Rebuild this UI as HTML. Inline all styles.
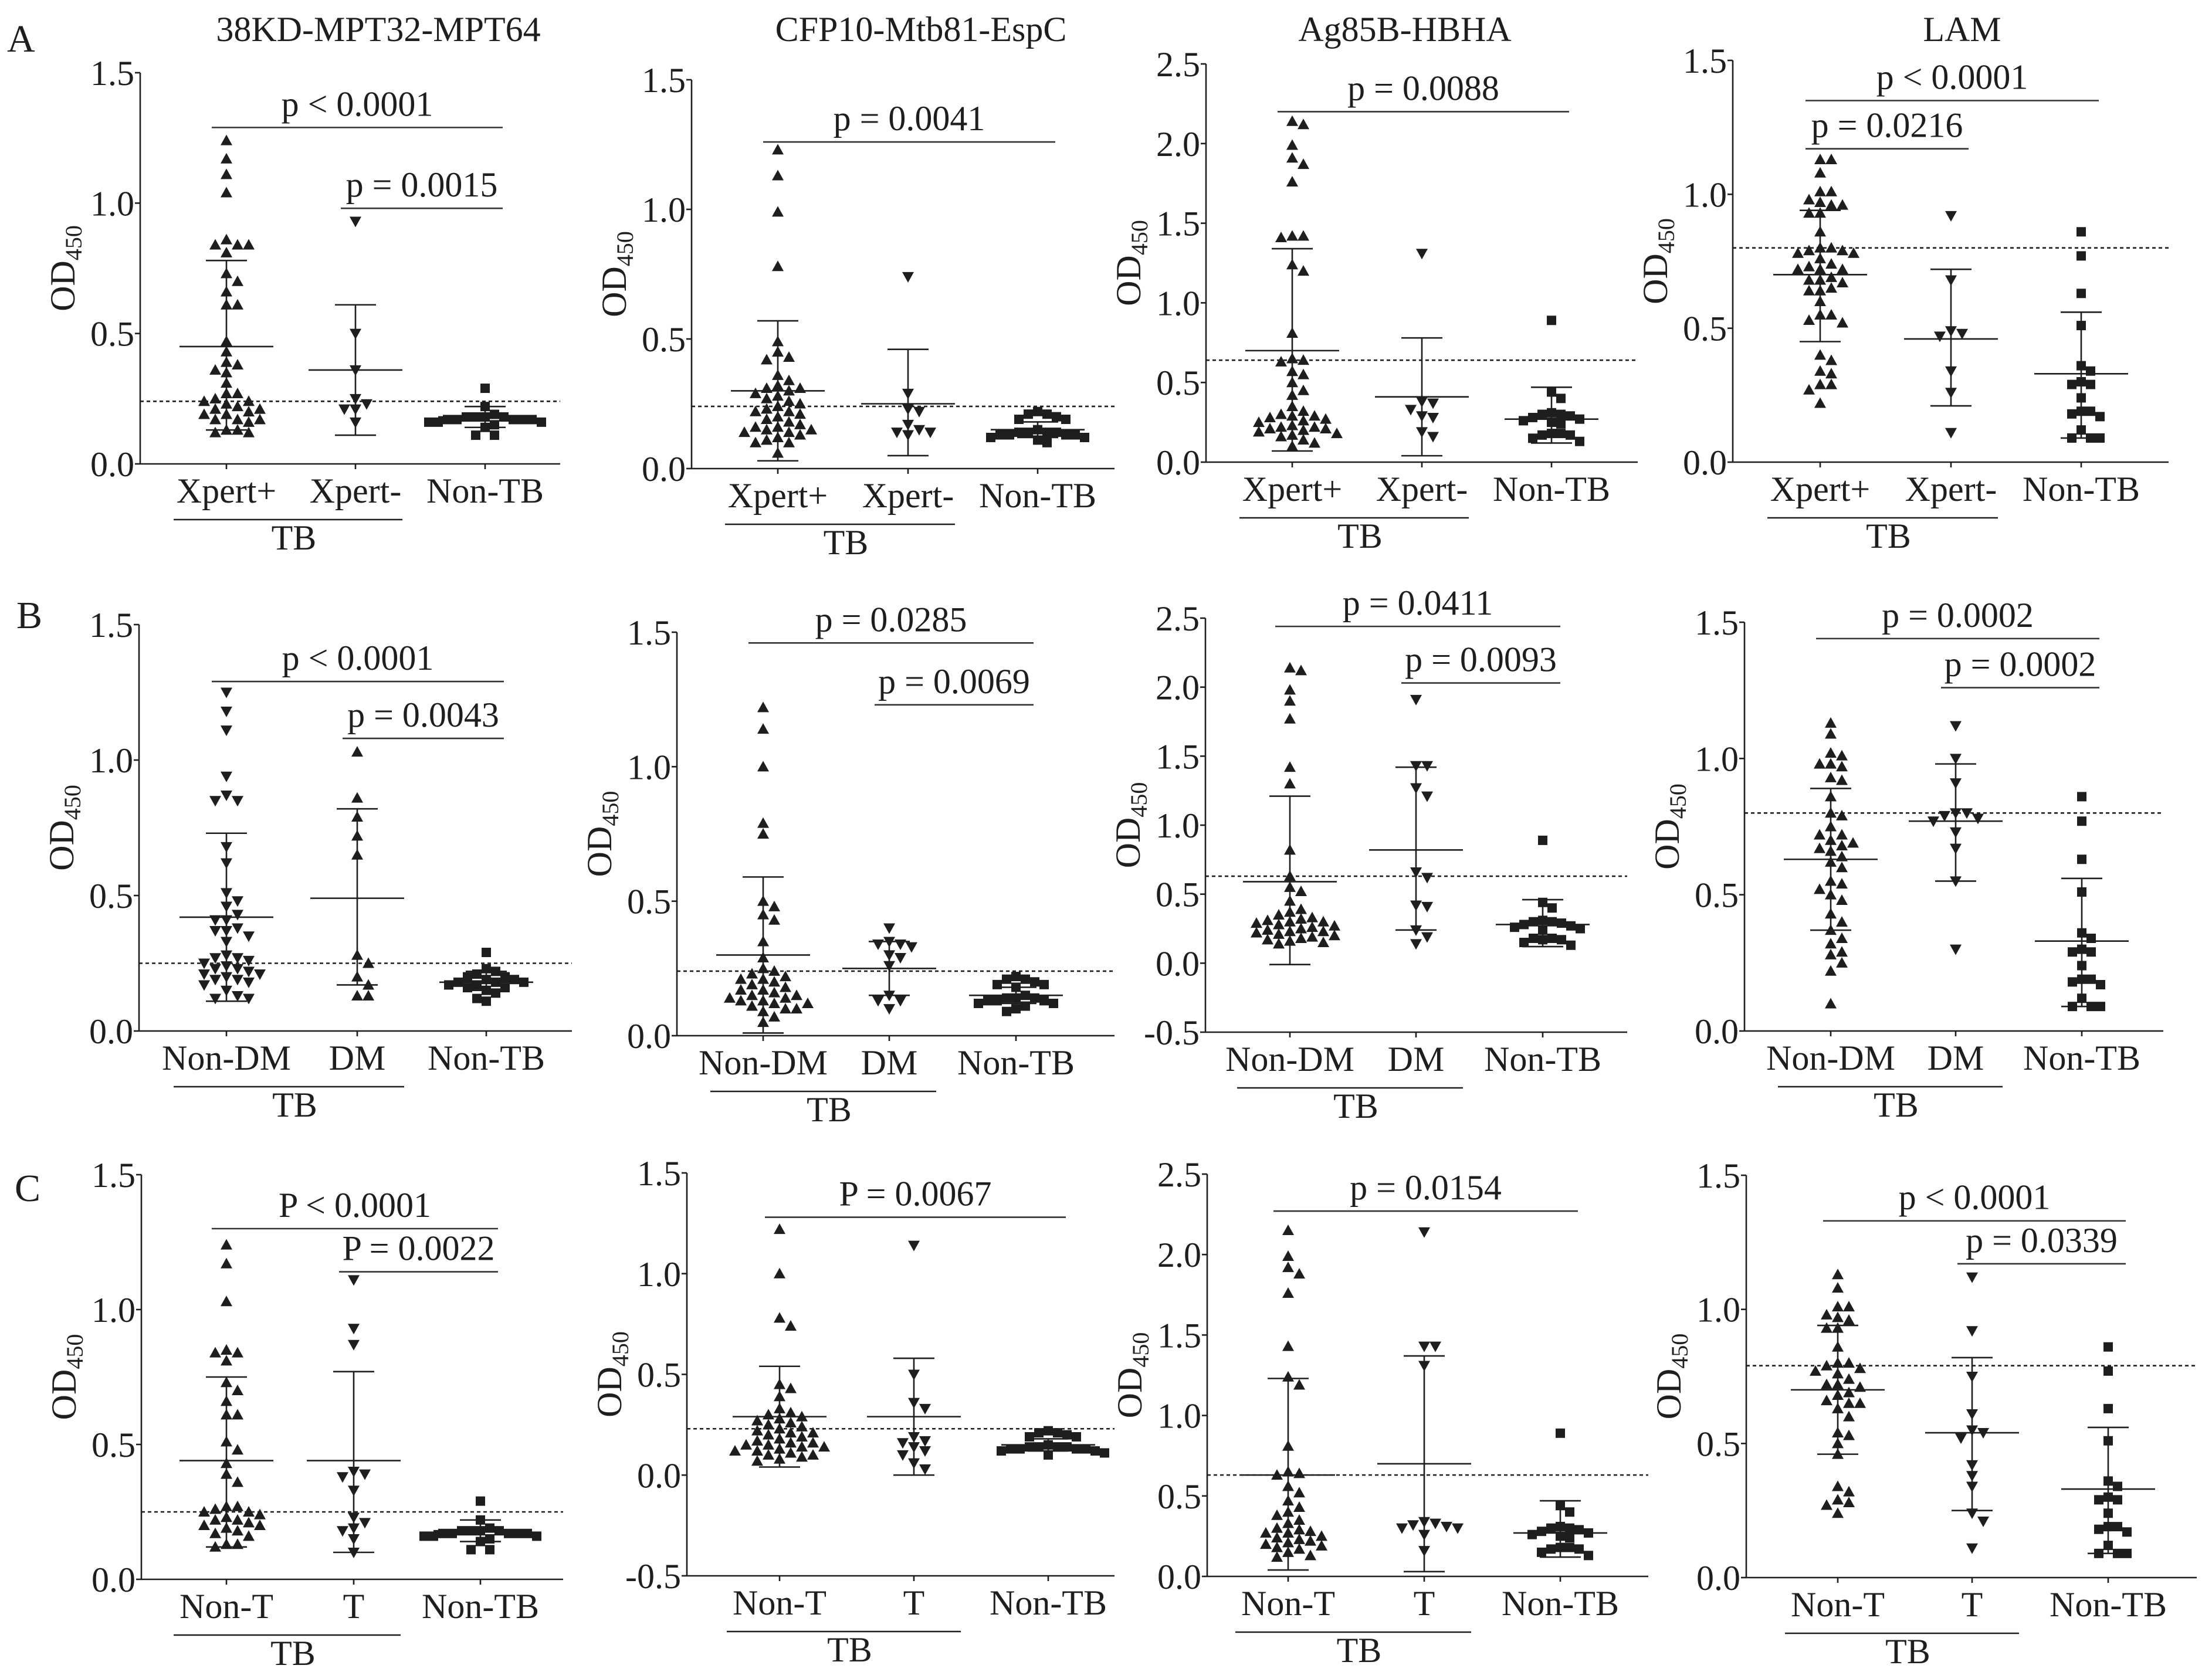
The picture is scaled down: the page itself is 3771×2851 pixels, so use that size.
<!DOCTYPE html>
<html><head><meta charset="utf-8"><title>OD450 scatter panels</title>
<style>html,body{margin:0;padding:0;background:#fff}svg{display:block}</style></head>
<body>
<svg id="fig" xmlns="http://www.w3.org/2000/svg" width="3771" height="2851" viewBox="0 0 3771 2851" font-family="'Liberation Serif', 'DejaVu Serif', serif"></svg>
<script>
// ===== DATA =====
const A1_xpertPos=[1.24,1.17,1.11,1.04,0.86,0.84,0.84,0.84,0.81,0.73,0.70,0.66,0.61,0.61,0.47,0.43,0.39,0.38,0.36,0.35,0.31,0.27,0.27,0.25,0.24,0.24,0.23,0.22,0.21,0.21,0.20,0.19,0.19,0.17,0.17,0.17,0.16,0.13,0.13,0.12,0.12];
const A1_xpertNeg=[0.93,0.50,0.36,0.25,0.23,0.21,0.21,0.16];
const A1_nonTB=[0.29,0.22,0.19,0.18,0.18,0.18,0.18,0.17,0.17,0.17,0.17,0.17,0.16,0.16,0.16,0.15,0.14,0.11,0.11];
const A1_mean=[0.45,0.36,0.18], A1_hi=[0.78,0.61,0.22], A1_lo=[0.13,0.11,0.14], A1_cut=0.24;
const A1_bars=[[0,2,1.29,'p < 0.0001'],[1,2,0.98,'p = 0.0015']];

const A2_xpertPos=[1.23,1.13,0.99,0.78,0.49,0.45,0.43,0.42,0.36,0.34,0.32,0.31,0.31,0.30,0.29,0.28,0.27,0.26,0.25,0.24,0.23,0.22,0.22,0.21,0.20,0.19,0.18,0.17,0.16,0.16,0.15,0.15,0.14,0.14,0.13,0.12,0.11,0.10,0.10,0.06];
const A2_xpertNeg=[0.74,0.29,0.23,0.22,0.17,0.15,0.14,0.14,0.13];
const A2_nonTB=[0.22,0.21,0.21,0.20,0.19,0.19,0.15,0.14,0.14,0.14,0.14,0.13,0.13,0.13,0.13,0.12,0.12,0.11,0.10];
const A2_mean=[0.30,0.25,0.15], A2_hi=[0.57,0.46,0.18], A2_lo=[0.03,0.05,0.12], A2_cut=0.24;
const A2_bars=[[0,2,1.26,'p = 0.0041']];

const A3_xpertPos=[2.14,2.12,1.99,1.91,1.87,1.76,1.42,1.41,1.42,1.24,1.20,0.81,0.65,0.64,0.63,0.57,0.55,0.50,0.45,0.42,0.35,0.32,0.30,0.29,0.29,0.28,0.27,0.26,0.25,0.23,0.22,0.22,0.21,0.21,0.20,0.19,0.18,0.17,0.16,0.14,0.12,0.10];
const A3_xpertNeg=[1.31,0.38,0.37,0.33,0.29,0.28,0.19,0.16];
const A3_nonTB=[0.89,0.44,0.40,0.31,0.30,0.30,0.29,0.28,0.27,0.26,0.25,0.24,0.18,0.18,0.17,0.17,0.15,0.13];
const A3_mean=[0.70,0.41,0.27], A3_hi=[1.34,0.78,0.47], A3_lo=[0.07,0.04,0.12], A3_cut=0.64;
const A3_bars=[[0,2,2.20,'p = 0.0088']];

const A4_xpertPos=[1.13,1.13,1.08,1.01,1.01,0.98,0.97,0.96,0.96,0.93,0.93,0.86,0.80,0.80,0.79,0.79,0.78,0.78,0.76,0.74,0.73,0.72,0.72,0.72,0.69,0.68,0.68,0.67,0.65,0.64,0.64,0.60,0.55,0.55,0.53,0.52,0.40,0.38,0.34,0.33,0.29,0.29,0.27,0.22];
const A4_xpertNeg=[0.92,0.68,0.49,0.48,0.47,0.34,0.26,0.11];
const A4_nonTB=[0.86,0.77,0.63,0.51,0.36,0.34,0.30,0.29,0.29,0.24,0.19,0.19,0.18,0.17,0.12,0.09,0.09,0.09];
const A4_mean=[0.70,0.46,0.33], A4_hi=[0.94,0.72,0.56], A4_lo=[0.45,0.21,0.09], A4_cut=0.80;
const A4_bars=[[0,2,1.35,'p < 0.0001'],[0,1,1.17,'p = 0.0216']];

const B1_nonDM=[1.25,1.18,1.11,0.94,0.87,0.85,0.85,0.68,0.62,0.51,0.48,0.46,0.43,0.41,0.41,0.38,0.37,0.37,0.35,0.33,0.28,0.27,0.27,0.26,0.25,0.24,0.23,0.23,0.22,0.21,0.21,0.20,0.19,0.19,0.18,0.17,0.15,0.13,0.12,0.12];
const B1_DM=[1.03,0.86,0.79,0.72,0.65,0.28,0.25,0.20,0.17,0.13,0.13];
const B1_nonTB=[0.29,0.23,0.22,0.21,0.20,0.20,0.19,0.19,0.18,0.18,0.18,0.17,0.17,0.16,0.16,0.15,0.14,0.12,0.11];
const B1_mean=[0.42,0.49,0.18], B1_hi=[0.73,0.82,0.22], B1_lo=[0.11,0.17,0.15], B1_cut=0.25;
const B1_bars=[[0,2,1.29,'p < 0.0001'],[1,2,1.08,'p = 0.0043']];

const B2_nonDM=[1.22,1.14,1.00,0.79,0.75,0.50,0.48,0.45,0.43,0.35,0.29,0.25,0.24,0.23,0.22,0.21,0.21,0.20,0.19,0.18,0.17,0.17,0.16,0.15,0.15,0.14,0.14,0.13,0.13,0.12,0.12,0.11,0.10,0.10,0.09,0.07,0.05];
const B2_DM=[0.40,0.35,0.34,0.34,0.33,0.30,0.29,0.26,0.15,0.13,0.13,0.10];
const B2_nonTB=[0.22,0.21,0.21,0.20,0.19,0.19,0.18,0.15,0.14,0.14,0.14,0.13,0.13,0.13,0.12,0.12,0.11,0.10,0.09];
const B2_mean=[0.30,0.25,0.15], B2_hi=[0.59,0.35,0.18], B2_lo=[0.01,0.15,0.12], B2_cut=0.24;
const B2_bars=[[0,2,1.46,'p = 0.0285'],[1,2,1.23,'p = 0.0069']];

const B3_nonDM=[2.14,2.12,1.98,1.90,1.77,1.42,1.30,0.82,0.63,0.55,0.52,0.45,0.39,0.37,0.35,0.33,0.32,0.31,0.30,0.30,0.29,0.28,0.27,0.26,0.25,0.24,0.23,0.23,0.22,0.21,0.20,0.19,0.18,0.17,0.16,0.15,0.14];
const B3_DM=[1.91,1.43,1.43,1.27,1.21,0.66,0.62,0.42,0.41,0.24,0.19,0.14];
const B3_nonTB=[0.89,0.44,0.40,0.31,0.30,0.30,0.29,0.28,0.27,0.26,0.25,0.24,0.18,0.18,0.17,0.17,0.15,0.13];
const B3_mean=[0.59,0.82,0.28], B3_hi=[1.21,1.42,0.46], B3_lo=[-0.01,0.24,0.12], B3_cut=0.63;
const B3_bars=[[0,2,2.44,'p = 0.0411'],[1,2,2.03,'p = 0.0093']];

const B4_nonDM=[1.13,1.09,1.02,1.01,0.98,0.98,0.97,0.93,0.92,0.86,0.79,0.80,0.75,0.72,0.72,0.70,0.69,0.68,0.67,0.66,0.64,0.62,0.60,0.55,0.54,0.52,0.50,0.48,0.43,0.40,0.37,0.34,0.32,0.29,0.28,0.25,0.22,0.10];
const B4_DM=[1.12,1.00,0.91,0.80,0.80,0.79,0.78,0.77,0.73,0.67,0.55,0.30];
const B4_nonTB=[0.86,0.77,0.63,0.51,0.36,0.34,0.30,0.29,0.29,0.24,0.19,0.19,0.18,0.17,0.12,0.09,0.09,0.09];
const B4_mean=[0.63,0.77,0.33], B4_hi=[0.89,0.98,0.56], B4_lo=[0.37,0.55,0.09], B4_cut=0.80;
const B4_bars=[[0,2,1.44,'p = 0.0002'],[1,2,1.26,'p = 0.0002']];

const C1_nonT=[1.24,1.17,1.03,0.85,0.84,0.84,0.81,0.73,0.70,0.66,0.61,0.61,0.51,0.48,0.43,0.39,0.36,0.27,0.27,0.26,0.25,0.25,0.24,0.23,0.22,0.22,0.21,0.20,0.20,0.19,0.18,0.17,0.16,0.13,0.13,0.12];
const C1_T=[1.11,0.93,0.87,0.40,0.39,0.38,0.33,0.23,0.21,0.19,0.18,0.15,0.10];
const C1_nonTB=[0.29,0.22,0.19,0.18,0.18,0.18,0.18,0.17,0.17,0.17,0.17,0.17,0.16,0.16,0.16,0.15,0.14,0.11,0.11];
const C1_mean=[0.44,0.44,0.18], C1_hi=[0.75,0.77,0.22], C1_lo=[0.12,0.10,0.14], C1_cut=0.25;
const C1_bars=[[0,2,1.30,'P < 0.0001'],[1,2,1.14,'P = 0.0022']];

const C2_nonT=[1.22,1.00,0.78,0.74,0.45,0.43,0.39,0.33,0.31,0.30,0.29,0.28,0.27,0.26,0.25,0.24,0.23,0.22,0.21,0.21,0.20,0.19,0.18,0.17,0.16,0.16,0.15,0.15,0.14,0.14,0.13,0.12,0.12,0.11,0.10,0.10,0.09,0.08,0.07];
const C2_T=[1.14,0.50,0.36,0.33,0.19,0.17,0.16,0.14,0.12,0.10,0.06,0.03];
const C2_nonTB=[0.22,0.21,0.21,0.20,0.19,0.19,0.15,0.14,0.14,0.14,0.14,0.13,0.13,0.13,0.13,0.12,0.12,0.11,0.10];
const C2_mean=[0.29,0.29,0.15], C2_hi=[0.54,0.58,0.18], C2_lo=[0.04,0.00,0.12], C2_cut=0.23;
const C2_bars=[[0,2,1.28,'P = 0.0067']];

const C3_nonT=[2.15,1.99,1.92,1.88,1.76,1.43,1.24,1.19,0.81,0.65,0.64,0.63,0.56,0.52,0.47,0.43,0.40,0.38,0.35,0.33,0.30,0.29,0.28,0.27,0.27,0.25,0.24,0.23,0.22,0.21,0.20,0.19,0.18,0.17,0.15,0.13,0.12];
const C3_T=[2.14,1.43,1.43,1.31,0.34,0.33,0.32,0.31,0.30,0.30,0.26,0.16];
const C3_nonTB=[0.89,0.44,0.40,0.31,0.30,0.30,0.29,0.28,0.27,0.26,0.25,0.24,0.18,0.18,0.17,0.17,0.15,0.13];
const C3_mean=[0.63,0.70,0.27], C3_hi=[1.23,1.37,0.47], C3_lo=[0.04,0.03,0.12], C3_cut=0.63;
const C3_bars=[[0,2,2.27,'p = 0.0154']];

const C4_nonT=[1.13,1.08,1.01,1.01,0.98,0.97,0.96,0.93,0.93,0.86,0.80,0.80,0.79,0.78,0.77,0.76,0.74,0.72,0.72,0.71,0.69,0.68,0.66,0.65,0.65,0.63,0.60,0.54,0.53,0.50,0.46,0.34,0.32,0.29,0.28,0.27,0.24];
const C4_T=[1.12,0.92,0.75,0.61,0.55,0.54,0.52,0.42,0.38,0.34,0.24,0.21,0.11];
const C4_nonTB=[0.86,0.77,0.63,0.51,0.36,0.34,0.30,0.29,0.29,0.24,0.19,0.19,0.18,0.17,0.12,0.09,0.09,0.09];
const C4_mean=[0.70,0.54,0.33], C4_hi=[0.94,0.82,0.56], C4_lo=[0.46,0.25,0.09], C4_cut=0.79;
const C4_bars=[[0,2,1.33,'p < 0.0001'],[1,2,1.17,'p = 0.0339']];

const catsA=['Xpert+','Xpert-','Non-TB'], catsB=['Non-DM','DM','Non-TB'], catsC=['Non-T','T','Non-TB'];
const titles=['38KD-MPT32-MPT64','CFP10-Mtb81-EspC','Ag85B-HBHA','LAM'];

// ===== LAYOUT =====
const panels=[
 {id:'a1',ax:239,right:955,y0:791,ytop:124,vmin:0,vmax:1.5,gx:[386,606,827],cats:catsA,shapes:['up','down','sq'],data:[A1_xpertPos,A1_xpertNeg,A1_nonTB],mean:A1_mean,hi:A1_hi,lo:A1_lo,cut:A1_cut,bars:A1_bars,title:titles[0],tx:645},
 {id:'a2',ax:1179,right:1900,y0:799,ytop:136,vmin:0,vmax:1.5,gx:[1326,1548,1769],cats:catsA,shapes:['up','down','sq'],data:[A2_xpertPos,A2_xpertNeg,A2_nonTB],mean:A2_mean,hi:A2_hi,lo:A2_lo,cut:A2_cut,bars:A2_bars,title:titles[1],tx:1570},
 {id:'a3',ax:2056,right:2792,y0:788,ytop:109,vmin:0,vmax:2.5,gx:[2203,2424,2645],cats:catsA,shapes:['up','down','sq'],data:[A3_xpertPos,A3_xpertNeg,A3_nonTB],mean:A3_mean,hi:A3_hi,lo:A3_lo,cut:A3_cut,bars:A3_bars,title:titles[2],tx:2395},
 {id:'a4',ax:2954,right:3697,y0:788,ytop:103,vmin:0,vmax:1.5,gx:[3103,3326,3548],cats:catsA,shapes:['up','down','sq'],data:[A4_xpertPos,A4_xpertNeg,A4_nonTB],mean:A4_mean,hi:A4_hi,lo:A4_lo,cut:A4_cut,bars:A4_bars,title:titles[3],tx:3345},
 {id:'b1',ax:237,right:975,y0:1758,ytop:1065,vmin:0,vmax:1.5,gx:[386,609,829],cats:catsB,shapes:['down','up','sq'],data:[B1_nonDM,B1_DM,B1_nonTB],mean:B1_mean,hi:B1_hi,lo:B1_lo,cut:B1_cut,bars:B1_bars},
 {id:'b2',ax:1154,right:1900,y0:1766,ytop:1078,vmin:0,vmax:1.5,gx:[1301,1516,1732],cats:catsB,shapes:['up','down','sq'],data:[B2_nonDM,B2_DM,B2_nonTB],mean:B2_mean,hi:B2_hi,lo:B2_lo,cut:B2_cut,bars:B2_bars},
 {id:'b3',ax:2055,right:2774,y0:1760,ytop:1054,vmin:-0.5,vmax:2.5,gx:[2199,2414,2630],cats:catsB,shapes:['up','down','sq'],data:[B3_nonDM,B3_DM,B3_nonTB],mean:B3_mean,hi:B3_hi,lo:B3_lo,cut:B3_cut,bars:B3_bars},
 {id:'b4',ax:2974,right:3688,y0:1758,ytop:1061,vmin:0,vmax:1.5,gx:[3121,3334,3549],cats:catsB,shapes:['up','down','sq'],data:[B4_nonDM,B4_DM,B4_nonTB],mean:B4_mean,hi:B4_hi,lo:B4_lo,cut:B4_cut,bars:B4_bars},
 {id:'c1',ax:241,right:960,y0:2693,ytop:2003,vmin:0,vmax:1.5,gx:[386,603,819],cats:catsC,shapes:['up','down','sq'],data:[C1_nonT,C1_T,C1_nonTB],mean:C1_mean,hi:C1_hi,lo:C1_lo,cut:C1_cut,bars:C1_bars},
 {id:'c2',ax:1171,right:1900,y0:2687,ytop:2000,vmin:-0.5,vmax:1.5,gx:[1329,1558,1787],cats:catsC,shapes:['up','down','sq'],data:[C2_nonT,C2_T,C2_nonTB],mean:C2_mean,hi:C2_hi,lo:C2_lo,cut:C2_cut,bars:C2_bars},
 {id:'c3',ax:2058,right:2810,y0:2688,ytop:2002,vmin:0,vmax:2.5,gx:[2196,2428,2660],cats:catsC,shapes:['up','down','sq'],data:[C3_nonT,C3_T,C3_nonTB],mean:C3_mean,hi:C3_hi,lo:C3_lo,cut:C3_cut,bars:C3_bars},
 {id:'c4',ax:2977,right:3745,y0:2690,ytop:2004,vmin:0,vmax:1.5,gx:[3133,3362,3594],cats:catsC,shapes:['up','down','sq'],data:[C4_nonT,C4_T,C4_nonTB],mean:C4_mean,hi:C4_hi,lo:C4_lo,cut:C4_cut,bars:C4_bars}
];
const letters=[['A',12,88],['B',28,1071],['C',25,2048]];

const NS='http://www.w3.org/2000/svg';
const svg=document.getElementById('fig');
function mk(tag,attrs,parent){const e=document.createElementNS(NS,tag);for(const k in attrs)e.setAttribute(k,attrs[k]);(parent||svg).appendChild(e);return e;}
const INK='#1e1e1e', LW=2.6, FS=60;

letters.forEach(([t,x,y])=>{
  const e=mk('text',{x:x,y:y,'font-size':66,fill:INK});
  e.textContent=t;
  
  
});

function marker(g,shape,x,y){
  let e;
  if(shape==='up') e=mk('polygon',{points:`${x},${y-10} ${x-10},${y+8} ${x+10},${y+8}`,fill:INK},g);
  else if(shape==='down') e=mk('polygon',{points:`${x},${y+10} ${x-10},${y-8} ${x+10},${y-8}`,fill:INK},g);
  else e=mk('rect',{x:x-8,y:y-8,width:16,height:16,fill:INK},g);
  return e;
}

panels.forEach(p=>{
  const g=mk('g',{});
  
  
  const Y=v=>p.y0-(v-p.vmin)/(p.vmax-p.vmin)*(p.y0-p.ytop);
  if(p.title){const t=mk('text',{x:p.tx,y:70,'font-size':FS,'text-anchor':'middle',fill:INK},g);t.textContent=p.title;
    
    }
  const ya=mk('line',{x1:p.ax,y1:p.ytop,x2:p.ax,y2:p.y0,stroke:INK,'stroke-width':LW},g);
  
  
  const xa=mk('line',{x1:p.ax,y1:p.y0,x2:p.right,y2:p.y0,stroke:INK,'stroke-width':LW},g);
  
  
  for(let v=p.vmin;v<=p.vmax+1e-9;v+=0.5){
    const y=Y(v);
    mk('line',{x1:p.ax-9,y1:y,x2:p.ax,y2:y,stroke:INK,'stroke-width':LW},g);
    const t=mk('text',{x:p.ax-10,y:y+21,'font-size':FS,'text-anchor':'end',fill:INK},g);
    t.textContent=(Math.abs(v)<1e-9?0:v).toFixed(1);
    
    
  }
  const ymid=(p.y0+p.ytop)/2, lx=p.ax-112;
  const yl=mk('text',{x:0,y:0,'font-size':FS,'text-anchor':'middle',fill:INK,transform:`translate(${lx},${ymid}) rotate(-90)`},g);
  
  
  const t1=mk('tspan',{},yl);t1.textContent='OD';
  const t2=mk('tspan',{'font-size':40,dy:12},yl);t2.textContent='450';
  p.gx.forEach((x,i)=>{
    mk('line',{x1:x,y1:p.y0,x2:x,y2:p.y0+9,stroke:INK,'stroke-width':LW},g);
    const t=mk('text',{x:x,y:p.y0+66,'font-size':FS,'text-anchor':'middle',fill:INK},g);
    t.textContent=p.cats[i];
    
    
  });
  const ul=mk('line',{x1:p.gx[0]-90,y1:p.y0+95,x2:p.gx[1]+80,y2:p.y0+95,stroke:INK,'stroke-width':LW},g);
  
  
  const tb=mk('text',{x:(p.gx[0]+p.gx[1])/2+5,y:p.y0+146,'font-size':FS,'text-anchor':'middle',fill:INK},g);
  tb.textContent='TB';
  
  
  const cl=mk('line',{x1:p.ax,y1:Y(p.cut),x2:p.right,y2:Y(p.cut),stroke:INK,'stroke-width':LW,'stroke-dasharray':'6 5'},g);
  
  
  p.data.forEach((vals,gi)=>{
    const gg=mk('g',{},g);
    
    
    const placed=[];
    const d=p.shapes[gi]==='sq'?16:19;
    const sorted=vals.slice().sort((a,b)=>b-a);
    sorted.forEach(v=>{
      const y=Y(v); let off=0;
      const cands=[0];for(let k=1;k<14;k++){cands.push(k*d,-k*d);}
      for(const c of cands){
        if(!placed.some(q=>Math.abs(q[0]-c)<d&&Math.abs(q[1]-y)<16)){off=c;break;}
      }
      placed.push([off,y]);
      const m=marker(gg,p.shapes[gi],p.gx[gi]+off,y);
      
      
    });
    const x=p.gx[gi];
    const eb=mk('g',{stroke:INK,'stroke-width':LW},gg);
    
    
    mk('line',{x1:x,y1:Y(p.hi[gi]),x2:x,y2:Y(p.lo[gi])},eb);
    mk('line',{x1:x-80,y1:Y(p.mean[gi]),x2:x+80,y2:Y(p.mean[gi])},eb);
    mk('line',{x1:x-35,y1:Y(p.hi[gi]),x2:x+35,y2:Y(p.hi[gi])},eb);
    mk('line',{x1:x-35,y1:Y(p.lo[gi]),x2:x+35,y2:Y(p.lo[gi])},eb);
  });
  p.bars.forEach(b=>{
    const x1=p.gx[b[0]]-25,x2=p.gx[b[1]]+30,y=Y(b[2]);
    const l=mk('line',{x1:x1,y1:y,x2:x2,y2:y,stroke:'#333','stroke-width':LW},g);
    
    
    const t=mk('text',{x:(x1+x2)/2,y:y-20,'font-size':FS,'text-anchor':'middle',fill:INK},g);
    t.textContent=b[3];
    
    
  });
});
</script>
</body></html>
